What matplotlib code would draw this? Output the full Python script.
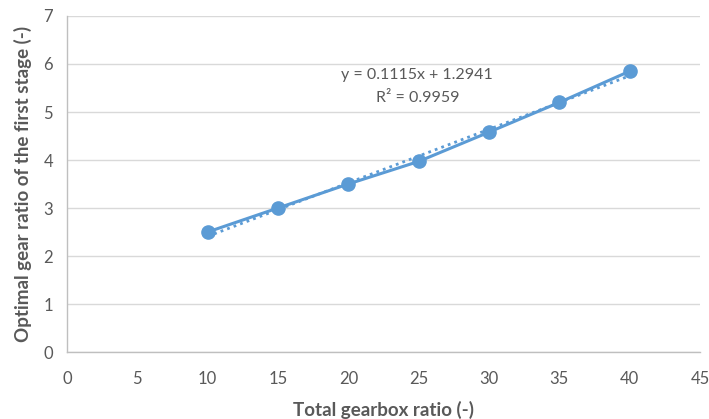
import numpy as np
import matplotlib.pyplot as plt

# data
total_ratio = [10, 15, 20, 25, 30, 35, 40]
first_stage = [2.5, 3.0, 3.5, 3.97, 4.58, 5.2, 5.85]
slope = 0.1115
intercept = 1.2941
r2 = 0.9959

plt.rcParams['font.family'] = ['Lato', 'DejaVu Sans']
blue = "#5B9BD5"
grey = "#595959"

fig = plt.figure(figsize=(7.09, 4.19), dpi=100)
ax = fig.add_axes([67 / 709, 1 - 352 / 419, 633 / 709, 336 / 419])

ax.set_axisbelow(True)
ax.grid(axis="y", color="#D9D9D9", linewidth=1)

x_fit = np.array([total_ratio[0], total_ratio[-1]])
ax.plot(x_fit, slope * x_fit + intercept, linestyle=(0, (1, 1.5)), color=blue, linewidth=2)
ax.plot(total_ratio, first_stage, color=blue, linewidth=2.2, marker="o", markersize=9.5)

ax.text(24.9, 5.77, f"y = {slope}x + {intercept}", ha="center", va="center", fontsize=11.5, color=grey)
ax.text(24.9, 5.3, f"R² = {r2}", ha="center", va="center", fontsize=11.5, color=grey)

ax.set_xlim(0, 45)
ax.set_ylim(0, 7)
ax.set_xticks(range(0, 50, 5))
ax.set_yticks(range(0, 8))
ax.tick_params(length=0, labelsize=12, labelcolor=grey)
ax.tick_params(axis="x", pad=14)
ax.tick_params(axis="y", pad=10)

for side in ["top", "right"]:
    ax.spines[side].set_visible(False)
for side in ["left", "bottom"]:
    ax.spines[side].set_color("#BFBFBF")
    ax.spines[side].set_linewidth(1)

ax.set_xlabel("Total gearbox ratio (-)", fontsize=13.5, fontweight="bold", color=grey, labelpad=10)
ax.set_ylabel("Optimal gear ratio of the first stage (-)", fontsize=13.5, fontweight="bold", color=grey, labelpad=8)

plt.savefig("out.png", dpi=100)
